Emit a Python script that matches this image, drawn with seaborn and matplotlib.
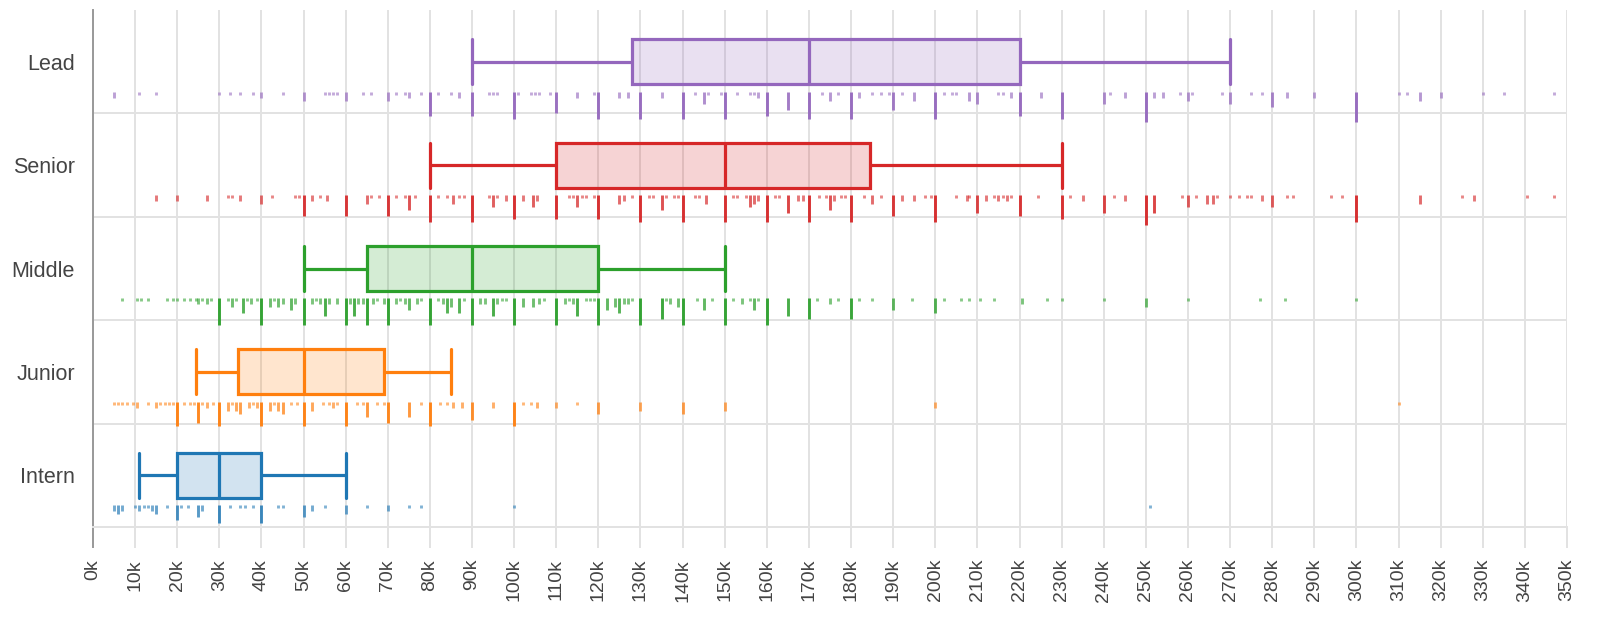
import numpy as np
import pandas as pd
import matplotlib
matplotlib.use("Agg")
import matplotlib.pyplot as plt
import seaborn as sns
from matplotlib.colors import to_rgba

# ---------------- data (salaries in thousands) ----------------
categories = ["Lead", "Senior", "Middle", "Junior", "Intern"]
colors = ["#9467bd", "#d62728", "#2ca02c", "#ff7f0e", "#1f77b4"]

whisker_low = [90, 80, 50, 24.5, 11]
q1 = [128, 110, 65, 34.5, 20]
median = [170, 150, 90, 50, 30]
q3 = [220, 184.5, 120, 69, 40]
whisker_high = [270, 230, 150, 85, 60]

lead_values = [5, 11, 15, 30, 32.5, 35, 38, 40, 45, 50, 55, 56, 57, 58, 60, 64, 66, 70, 72, 74, 75, 78,
               80, 82, 85, 87, 90, 94, 95, 96, 100, 101, 104, 105, 106, 108.5, 110, 115, 119, 120, 125,
               127, 130, 135, 140, 143, 145, 146, 149, 150, 153, 156, 157, 158, 160, 165, 170, 173, 175,
               177, 180, 182, 185, 187, 189, 190, 192, 195, 200, 202, 204, 205, 208, 210, 215, 216, 218,
               220, 225, 230, 240, 241.5, 245, 250, 252, 254, 258, 260, 261, 268, 270, 275, 277.5, 280,
               283.5, 290, 300, 310, 312, 315, 320, 330, 335, 347]
lead_counts = [2, 1, 1, 1, 1, 1, 1, 2, 1, 3, 1, 1, 1, 1, 3, 1, 1, 3, 1, 1, 2, 1,
               8, 1, 1, 2, 8, 1, 1, 1, 9, 1, 1, 1, 1, 1, 7, 2, 1, 9, 2,
               2, 9, 2, 9, 1, 4, 1, 1, 9, 1, 1, 1, 2, 8, 6, 9, 1, 3,
               1, 9, 2, 1, 1, 1, 6, 1, 3, 9, 1, 1, 1, 3, 4, 1, 1, 2,
               8, 2, 9, 4, 1, 2, 10, 2, 2, 1, 3, 1, 1, 4, 1, 1, 5,
               2, 2, 10, 1, 1, 3, 2, 1, 1, 1]

senior_values = [15, 20, 27, 32, 33, 35, 40, 42.5, 48, 49, 50, 52, 54, 55.5, 60, 65, 66, 68, 70, 72, 74,
                 75, 76.5, 80, 82, 84, 85.5, 87, 88, 90, 94, 95, 96, 98, 100, 102, 104.5, 105.5, 110, 113,
                 114, 115, 116, 117, 119, 120, 125, 126, 128, 130, 132, 133, 135, 136, 138, 139, 140, 143,
                 144, 145.5, 150, 152, 153, 155, 156, 157, 158, 160, 162, 163, 165, 167.5, 168.5, 170,
                 172.5, 174, 175, 176, 177.5, 178.5, 180, 183, 185, 187, 190, 192, 195, 197.5, 199, 200,
                 205, 207.5, 208, 210, 212, 214, 215, 216, 217, 218, 220, 224.5, 230, 232, 235, 240, 242.5,
                 245, 250, 252, 258.5, 260, 262, 264.6, 266, 267, 270, 272, 274, 275, 277.5, 280, 283.5,
                 285, 294, 296.6, 300, 315, 325, 328, 340.6, 346.8]
senior_counts = [2, 2, 2, 1, 1, 2, 3, 1, 1, 1, 7, 2, 1, 2, 7, 3, 1, 1, 7, 1, 1,
                 5, 1, 9, 1, 1, 3, 1, 1, 9, 1, 4, 1, 2, 8, 2, 4, 2, 8, 1,
                 1, 4, 1, 1, 1, 8, 3, 2, 1, 9, 1, 1, 5, 1, 1, 1, 9, 1,
                 1, 3, 9, 1, 1, 1, 4, 3, 2, 9, 1, 1, 6, 2, 2, 9,
                 1, 1, 5, 2, 1, 1, 9, 1, 3, 1, 7, 2, 2, 1, 1, 9,
                 1, 2, 1, 6, 2, 1, 2, 1, 2, 1, 7, 1, 8, 1, 2, 6, 1,
                 2, 10, 6, 1, 4, 1, 3, 3, 1, 1, 1, 1, 1, 2, 4, 1,
                 1, 1, 1, 9, 3, 1, 2, 1, 1]

middle_values = [7, 10.5, 11.5, 13, 17.5, 19, 20, 21.5, 23, 24.5, 25, 26, 27, 28, 30, 32, 33, 34, 35.5, 36.5,
                 37.5, 39, 40, 42, 43, 44, 45, 47, 48, 50, 52, 53, 54, 55, 56, 58, 60, 61, 62, 63, 64, 65,
                 66.5, 67.5, 69, 70, 72, 73, 74, 75, 77, 78, 80, 82, 83, 84, 85, 87, 88, 90, 92, 93, 95, 96,
                 97, 98, 100, 102, 104.5, 106, 107, 110, 112, 113, 114, 115, 117, 118, 119, 120, 122, 124,
                 125, 126, 127, 128, 130, 135, 136, 137, 139, 140, 143.5, 145, 147, 150, 152, 154, 156,
                 157, 158, 160, 165, 170, 172, 175, 177, 180, 182, 185, 190, 194.5, 200, 202, 206, 208,
                 210.5, 214, 220.6, 226.6, 230, 240, 250, 260, 277, 283, 300]
middle_counts = [1, 1, 1, 1, 1, 1, 1, 1, 1, 1, 2, 1, 2, 1, 9, 1, 3, 1, 5, 1,
                 2, 1, 9, 3, 1, 3, 2, 4, 2, 9, 2, 1, 2, 6, 2, 2, 9, 2, 6, 2, 2, 9,
                 2, 1, 2, 9, 2, 1, 2, 4, 2, 1, 9, 1, 2, 5, 3, 5, 1, 9, 2, 2, 6, 2,
                 1, 1, 9, 3, 3, 2, 1, 9, 2, 1, 2, 6, 1, 1, 1, 9, 4, 3,
                 5, 2, 2, 1, 9, 7, 1, 2, 3, 9, 1, 4, 1, 9, 1, 2, 1,
                 4, 1, 9, 6, 7, 1, 2, 1, 7, 1, 1, 4, 1, 5, 1, 1, 1,
                 1, 1, 2, 1, 1, 1, 3, 1, 1, 1, 1]

junior_values = [5, 6, 7, 8, 9.5, 10.5, 13, 15, 16, 17, 18, 19, 20, 21.5, 23, 24, 25, 26, 27, 28.5, 30, 32,
                 33, 34, 35, 37, 38, 39, 40, 42, 43, 44, 45, 47, 48.5, 50, 52, 54.6, 56, 57, 58, 60, 62.7,
                 64, 65, 67.5, 69, 70, 75, 78, 80, 82.4, 84, 85.5, 87.6, 90, 95, 100, 102, 104, 105.5,
                 110, 115, 120, 130, 140, 150, 200, 310]
junior_counts = [1, 1, 1, 1, 1, 2, 1, 2, 1, 1, 1, 1, 8, 1, 1, 1, 7, 1, 2, 1, 8, 3,
                 1, 3, 4, 2, 1, 2, 8, 3, 1, 3, 4, 1, 1, 8, 3, 1, 1, 2, 1, 8, 1,
                 1, 5, 1, 1, 7, 5, 1, 8, 1, 1, 2, 2, 6, 2, 8, 1, 1, 2,
                 2, 1, 4, 3, 4, 3, 2, 1]

intern_values = [5, 6, 7, 10, 11, 12, 13, 14, 15, 17.5, 20, 21, 22.5, 25, 26, 30, 32.5, 35, 36, 38, 40,
                 44, 45, 50, 52, 55, 60, 65, 70, 75, 78, 100, 251]
intern_counts = [2, 3, 2, 1, 2, 1, 1, 2, 3, 1, 5, 1, 1, 4, 2, 6, 1, 1, 1, 1, 6,
                 1, 1, 4, 2, 1, 3, 1, 2, 1, 1, 1, 1]

rug_values = [lead_values, senior_values, middle_values, junior_values, intern_values]
rug_counts = [lead_counts, senior_counts, middle_counts, junior_counts, intern_counts]

x_ticks = list(range(0, 351, 10))
x_tick_labels = [f"{v}k" for v in x_ticks]

# ---------------- figure ----------------
sns.set_theme(style="white")
plt.rcParams["font.family"] = ["Liberation Sans", "DejaVu Sans"]

fig = plt.figure(figsize=(16, 6.21), dpi=100)
ax = fig.add_axes([93 / 1600, 1 - 527 / 621, (1567 - 93) / 1600, (527 - 10) / 621])

box_width = 0.435
for i, cat in enumerate(categories):
    df = pd.DataFrame({
        "salary": [whisker_low[i], q1[i], median[i], q3[i], whisker_high[i]],
        "level": [cat] * 5,
    })
    n_before = len(ax.patches)
    sns.boxplot(data=df, x="salary", y="level", order=categories, color=colors[i],
                linecolor=colors[i], saturation=1, linewidth=2.3, width=box_width,
                whis=np.inf, capwidths=box_width, fill=True, ax=ax, zorder=3)
    for p in ax.patches[n_before:]:
        p.set_facecolor(to_rgba(colors[i], 0.2))
        p.set_edgecolor(colors[i])

# rug ticks
offset = 0.29
unit = 0.029
for i, cat in enumerate(categories):
    vals = np.array(rug_values[i], dtype=float)
    cnts = np.array(rug_counts[i], dtype=float)
    alphas = np.clip(0.5 + 0.06 * cnts, 0, 0.95)
    cols = [to_rgba(colors[i], a) for a in alphas]
    ax.vlines(vals, i + offset, i + offset + cnts * unit, colors=cols, linewidth=2.1, zorder=4)

ax.set_xlim(0, 350)
ax.set_ylim(4.5, -0.5)
ax.set_xticks(x_ticks)
ax.set_xticklabels(x_tick_labels, rotation=90)
ax.set_yticks(range(len(categories)))
ax.set_yticklabels(categories)
ax.set_yticks(np.arange(0.5, 5, 1), minor=True)
ax.set_xlabel("")
ax.set_ylabel("")

ax.grid(True, axis="x", which="major", color="#e2e2e2", linewidth=1.4, zorder=0)
ax.grid(True, axis="y", which="minor", color="#e2e2e2", linewidth=1.4, zorder=0)
ax.grid(False, axis="y", which="major")
ax.set_axisbelow(True)

ax.tick_params(axis="x", which="major", length=15, width=1.4, color="#e2e2e2",
               labelsize=14, labelcolor="#444444", pad=8, bottom=True)
ax.tick_params(axis="y", which="both", length=0, labelsize=15.5, labelcolor="#444444", pad=13)

for s in ["top", "right"]:
    ax.spines[s].set_visible(False)
ax.spines["bottom"].set_color("#e2e2e2")
ax.spines["bottom"].set_linewidth(1.4)
ax.spines["left"].set_color("#999999")
ax.spines["left"].set_linewidth(1.4)
ax.spines["left"].set_bounds(4.5 + 20 / 103.4, -0.5)

fig.savefig("out.png", dpi=100)
